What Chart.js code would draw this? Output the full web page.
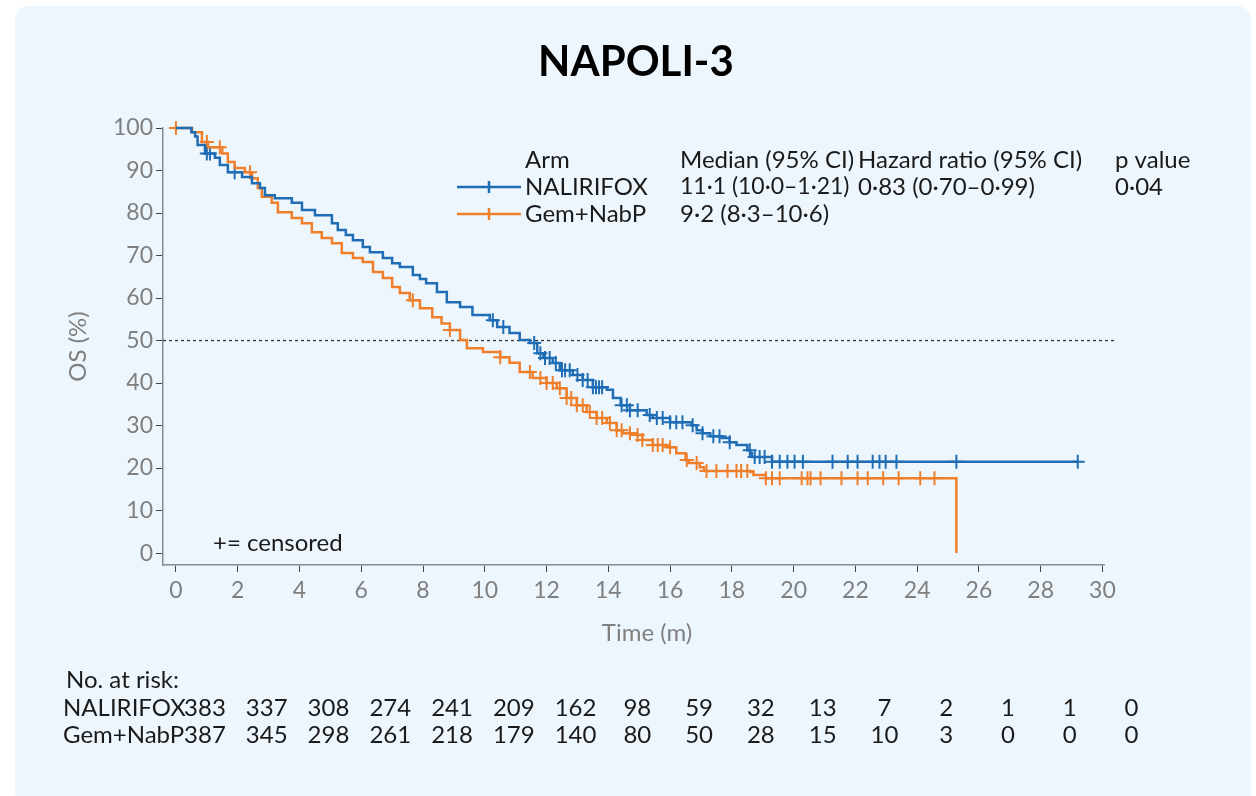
<!DOCTYPE html>
<html>
<head>
<meta charset="utf-8">
<script src="https://cdn.jsdelivr.net/npm/chart.js@4.4.1/dist/chart.umd.min.js"></script>
<style>
  html, body { margin: 0; padding: 0; background: #fff; }
  body { width: 1256px; height: 796px; position: relative; overflow: hidden; }
  .panel { position: absolute; left: 15px; top: 6px; width: 1236px; height: 800px; background: #eef6fd; border-radius: 14px; }
  .wrap { position: absolute; left: 0; top: 0; width: 1256px; height: 796px; }
</style>
</head>
<body>
<div class="panel"></div>
<div class="wrap"><canvas id="kmChart" width="1256" height="796"></canvas></div>
<script>
const blue = "#1f6db5";
const orange = "#f07f2c";
const grey = "#7f7f7f";

const xTicks = [0, 2, 4, 6, 8, 10, 12, 14, 16, 18, 20, 22, 24, 26, 28, 30];
const yTicks = [0, 10, 20, 30, 40, 50, 60, 70, 80, 90, 100];

// NALIRIFOX overall survival (months, %)
const naliTime = [0, 0.5, 0.62, 0.7, 0.94, 1.26, 1.42, 1.68, 2.14, 2.46, 2.72, 2.88, 3.2, 3.75, 4.08, 4.5, 5.05, 5.24, 5.5, 5.73,
  6.05, 6.28, 6.7, 7.0, 7.25, 7.67, 7.9, 8.1, 8.45, 8.77, 9.2, 9.6, 10.16, 10.4, 10.8, 11.13, 11.46, 11.7, 11.9, 12.2,
  12.43, 12.85, 13.17, 13.5, 13.95, 14.15, 14.4, 14.7, 15.24, 15.44, 16.0, 16.7, 16.86, 17.05, 17.3, 17.67, 17.93, 18.15, 18.5, 18.6,
  18.65, 19.3, 29.2];
const naliSurv = [100, 99, 98, 96, 94, 93, 91.3, 89.6, 88.5, 87, 85.9, 84.2, 83.5, 82.4, 80.7, 79.5, 77.6, 76, 74.8, 73.6,
  72, 70.8, 69.4, 68.2, 67.3, 65.4, 64.5, 63.5, 61.4, 59, 57.9, 56, 54.8, 53.2, 51.8, 50.1, 49.4, 47, 45.9, 44.7,
  43, 41.9, 40.7, 39, 38.4, 36.5, 34.8, 33.6, 32.5, 31.8, 30.8, 30.1, 28.9, 28.2, 27.5, 27.1, 26.1, 25.4, 24.2, 23.5,
  22.6, 21.5, 21.5];
const naliCensor = [1.0, 1.1, 1.9, 10.26, 10.6, 11.6, 11.8, 11.95, 12.1, 12.3, 12.5, 12.6, 12.75, 13.0, 13.17, 13.33, 13.5, 13.6,
  13.7, 13.8, 14.43, 14.6, 14.7, 14.95, 15.34, 15.57, 15.76, 16.0, 16.2, 16.4, 16.73, 17.05, 17.4, 17.6, 17.93, 18.58,
  18.74, 18.9, 19.06, 19.3, 19.55, 19.8, 20.03, 20.3, 21.26, 21.75, 22.07, 22.56, 22.78, 22.98, 23.33, 25.27, 29.2];

// Gem+NabP overall survival (months, %)
const gemTime = [0, 0.52, 0.84, 1.04, 1.5, 1.68, 1.9, 2.23, 2.46, 2.65, 2.78, 3.1, 3.3, 3.75, 4.08, 4.4, 4.72, 5.05, 5.37, 5.73,
  6.05, 6.38, 6.7, 7.0, 7.25, 7.57, 7.9, 8.3, 8.6, 8.87, 9.2, 9.42, 9.94, 10.5, 10.8, 11.13, 11.55, 12.0, 12.33, 12.65,
  12.98, 13.3, 13.62, 13.95, 14.27, 14.47, 14.9, 15.1, 15.44, 15.9, 16.2, 16.5, 16.6, 16.96, 17.1, 18.6, 18.7, 19.1, 25.27, 25.27];
const gemSurv = [100, 99, 96.7, 95.5, 94, 92, 90.6, 89.6, 88.2, 85.9, 83.8, 82.4, 80.2, 78.8, 77.6, 75.5, 74.1, 72.9, 70.6, 69.4,
  68.5, 66.1, 64.7, 62.6, 61.2, 59.5, 57.6, 55.5, 54, 52.5, 50.1, 48.2, 47.3, 46.1, 44.8, 42.6, 41.2, 40, 38.8, 36.5,
  34.8, 33.2, 31.8, 30.6, 28.9, 28.2, 27.8, 26.6, 25.4, 24.9, 23.5, 21.9, 21.2, 20.2, 19.3, 19.1, 18.4, 17.6, 17.6, 0];
const gemCensor = [0, 1.0, 1.42, 2.4, 7.67, 8.87, 10.5, 11.46, 11.8, 12.0, 12.2, 12.43, 12.65, 12.8, 12.98, 13.17, 13.4, 13.62,
  13.8, 14.05, 14.27, 14.43, 14.7, 14.95, 15.1, 15.44, 15.6, 15.76, 16.0, 16.54, 16.86, 17.18, 17.5, 17.86, 18.15, 18.3,
  18.5, 19.1, 19.3, 19.55, 20.26, 20.45, 20.55, 20.87, 21.55, 22.07, 22.4, 22.9, 23.4, 24.1, 24.56];

// number at risk
const riskTimes = [0, 2, 4, 6, 8, 10, 12, 14, 16, 18, 20, 22, 24, 26, 28, 30];
const naliRisk = [383, 337, 308, 274, 241, 209, 162, 98, 59, 32, 13, 7, 2, 1, 1, 0];
const gemRisk = [387, 345, 298, 261, 218, 179, 140, 80, 50, 28, 15, 10, 3, 0, 0, 0];

const medianLevel = 50;
const xMin = -0.42;
const xMax = 30.05;
const refEnd = 30.4;

function toPoints(times, surv) {
  return times.map((t, i) => ({ x: t, y: surv[i] }));
}

function survAt(times, surv, t) {
  let s = surv[0];
  for (let i = 0; i < times.length; i++) {
    if (times[i] <= t) s = surv[i];
  }
  return s;
}

function censorPoints(list, times, surv) {
  return list.map((t) => ({ x: t, y: survAt(times, surv, t) }));
}

const tablesPlugin = {
  id: "tables",
  afterDraw(chart) {
    const ctx = chart.ctx;
    const xs = chart.scales.x;
    ctx.save();
    ctx.textBaseline = "middle";

    // title
    ctx.font = "bold 42px Lato";
    ctx.fillStyle = "#000";
    ctx.textAlign = "center";
    ctx.fillText("NAPOLI-3", 636, 62);

    // x axis title
    ctx.font = "24px Lato";
    ctx.fillStyle = grey;
    ctx.fillText("Time (m)", 647, 633);

    ctx.font = "24px Lato";
    ctx.fillStyle = "#1a1a1a";
    ctx.textAlign = "left";

    // legend table
    ctx.fillText("Arm", 525, 160);
    ctx.fillText("Median (95% CI)", 680, 160);
    ctx.fillText("Hazard ratio (95% CI)", 858, 160);
    ctx.fillText("p value", 1115, 160);
    ctx.fillText("NALIRIFOX", 525, 187);
    ctx.fillText("0·83 (0·70–0·99)", 858, 187);
    ctx.fillText("0·04", 1115, 187);
    ctx.fillText("Gem+NabP", 525, 214);
    ctx.fillText("9·2 (8·3–10·6)", 680, 214);
    ctx.font = "23px Lato";
    ctx.fillText("11·1 (10·0–1·21)", 680, 187);
    ctx.font = "24px Lato";

    [[blue, 187], [orange, 214]].forEach(([c, y]) => {
      ctx.strokeStyle = c;
      ctx.lineWidth = 2.5;
      ctx.beginPath();
      ctx.moveTo(457, y);
      ctx.lineTo(521, y);
      ctx.moveTo(489, y - 6);
      ctx.lineTo(489, y + 6);
      ctx.stroke();
    });

    ctx.fillText("+= censored", 213, 543);

    // risk table
    ctx.fillText("No. at risk:", 66, 680);
    ctx.fillText("NALIRIFOX", 63, 708);
    ctx.fillText("Gem+NabP", 63, 735);
    ctx.textAlign = "center";
    riskTimes.forEach((t, i) => {
      const px = xs.getPixelForValue(t) + 29;
      ctx.fillText(String(naliRisk[i]), px, 708);
      ctx.fillText(String(gemRisk[i]), px, 735);
    });
    ctx.restore();
  },
};

Chart.defaults.font.family = "Lato";

const ctx = document.getElementById("kmChart");

const kmChart = new Chart(ctx, {
  type: "line",
  data: {
    datasets: [
      {
        label: "NALIRIFOX",
        data: toPoints(naliTime, naliSurv),
        borderColor: blue,
        borderWidth: 2.5,
        stepped: "before",
        pointRadius: 0,
        fill: false,
        clip: false,
      },
      {
        label: "Gem+NabP",
        data: toPoints(gemTime, gemSurv),
        borderColor: orange,
        borderWidth: 2.5,
        stepped: "before",
        pointRadius: 0,
        fill: false,
        clip: false,
      },
      {
        label: "NALIRIFOX censored",
        data: censorPoints(naliCensor, naliTime, naliSurv),
        showLine: false,
        pointStyle: "cross",
        pointRadius: 7,
        borderColor: blue,
        pointBorderWidth: 2,
        clip: false,
      },
      {
        label: "Gem+NabP censored",
        data: censorPoints(gemCensor, gemTime, gemSurv),
        showLine: false,
        pointStyle: "cross",
        pointRadius: 7,
        borderColor: orange,
        pointBorderWidth: 2,
        clip: false,
      },
      {
        label: "median",
        data: [{ x: xMin, y: medianLevel }, { x: refEnd, y: medianLevel }],
        borderColor: "#333",
        borderWidth: 1.3,
        borderDash: [3, 3],
        pointRadius: 0,
        clip: false,
      },
    ],
  },
  options: {
    responsive: false,
    animation: false,
    layout: {
      padding: { left: 0, right: 152, top: 128, bottom: 0 },
    },
    plugins: {
      legend: { display: false },
      tooltip: { enabled: false },
      title: { display: false },
    },
    scales: {
      x: {
        type: "linear",
        min: xMin,
        max: xMax,
        afterBuildTicks: (scale) => {
          scale.ticks = xTicks.map((v) => ({ value: v }));
        },
        afterFit: (scale) => {
          scale.height = 231;
        },
        ticks: {
          color: grey,
          font: { size: 23 },
          padding: 5,
          maxRotation: 0,
          autoSkip: false,
        },
        grid: {
          drawOnChartArea: false,
          drawTicks: true,
          tickLength: 7,
          color: "#444",
        },
        border: { color: "#8a8a8a", width: 1.5 },
      },
      y: {
        min: -2.8,
        max: 100,
        afterBuildTicks: (scale) => {
          scale.ticks = yTicks.map((v) => ({ value: v }));
        },
        afterFit: (scale) => {
          scale.width = 163;
        },
        ticks: {
          color: grey,
          font: { size: 23 },
          padding: 3,
          autoSkip: false,
        },
        grid: {
          drawOnChartArea: false,
          drawTicks: true,
          tickLength: 7,
          color: "#444",
        },
        border: { color: "#8a8a8a", width: 1.5 },
        title: {
          display: true,
          text: "OS (%)",
          color: grey,
          font: { size: 24 },
          padding: { top: 64, bottom: 0 },
        },
      },
    },
  },
  plugins: [tablesPlugin],
});
</script>
</body>
</html>
